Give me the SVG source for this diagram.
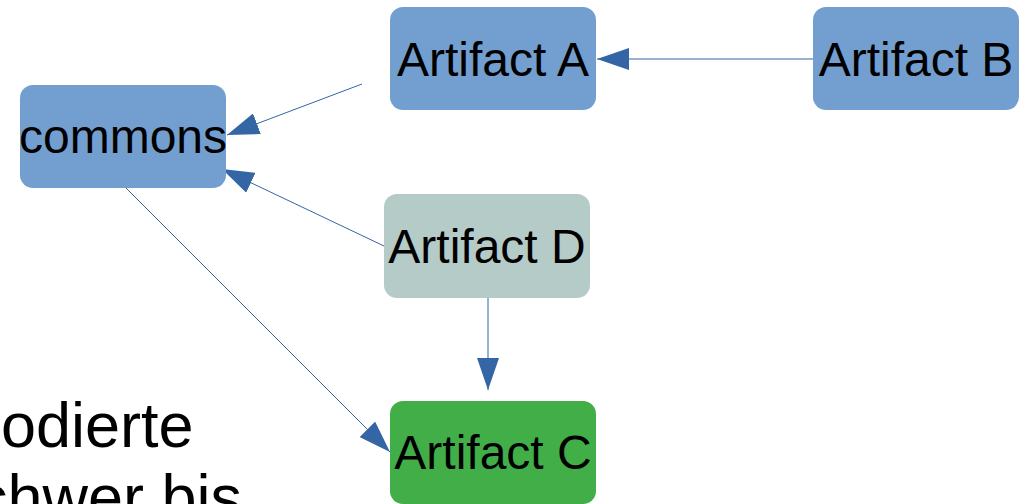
<svg xmlns="http://www.w3.org/2000/svg" width="1029" height="504" viewBox="0 0 1029 504">
<style>
.node rect{stroke:none}
.blue{fill:#729fcf}
.grey{fill:#b4cbc8}
.green{fill:#42ae48}
.lbl{font-family:"Liberation Sans",Arial,sans-serif;font-size:48px;fill:#000;text-anchor:middle}
.body{font-family:"Liberation Sans",Arial,sans-serif;font-size:63px;fill:#000}
.conn line{stroke:#3465a4;stroke-width:1;fill:none;marker-end:url(#ah)}
</style>
<defs>
<marker id="ah" markerUnits="userSpaceOnUse" markerWidth="33" markerHeight="22" refX="32" refY="11" orient="auto" viewBox="0 0 33 22">
<path d="M0,0 L32,11 L0,22 Z" fill="#3465a4"/>
</marker>
</defs>
<rect width="1029" height="504" fill="#fff"/>
<text class="body" x="1" y="447">odierte</text>
<text class="body" x="-24" y="519">chwer bis</text>
<g class="conn">
<line x1="362" y1="84" x2="227" y2="135"/>
<line x1="384" y1="246" x2="222" y2="169"/>
<line x1="813" y1="59" x2="597" y2="59"/>
<line x1="488" y1="298" x2="488" y2="390"/>
<line x1="126" y1="188" x2="390" y2="452"/>
</g>
<g id="commons" class="node"><rect class="blue" x="20" y="85" width="206" height="103" rx="13"/><text class="lbl" x="123" y="153">commons</text></g>
<g id="artifactA" class="node"><rect class="blue" x="390" y="7" width="206" height="103" rx="13"/><text class="lbl" x="493" y="76">Artifact A</text></g>
<g id="artifactB" class="node"><rect class="blue" x="813" y="7" width="206" height="103" rx="13"/><text class="lbl" x="916" y="76">Artifact B</text></g>
<g id="artifactD" class="node"><rect class="grey" x="384" y="194" width="206" height="104" rx="13"/><text class="lbl" x="487" y="263">Artifact D</text></g>
<g id="artifactC" class="node"><rect class="green" x="390" y="401" width="206" height="103" rx="13"/><text class="lbl" x="493" y="469">Artifact C</text></g>
</svg>
